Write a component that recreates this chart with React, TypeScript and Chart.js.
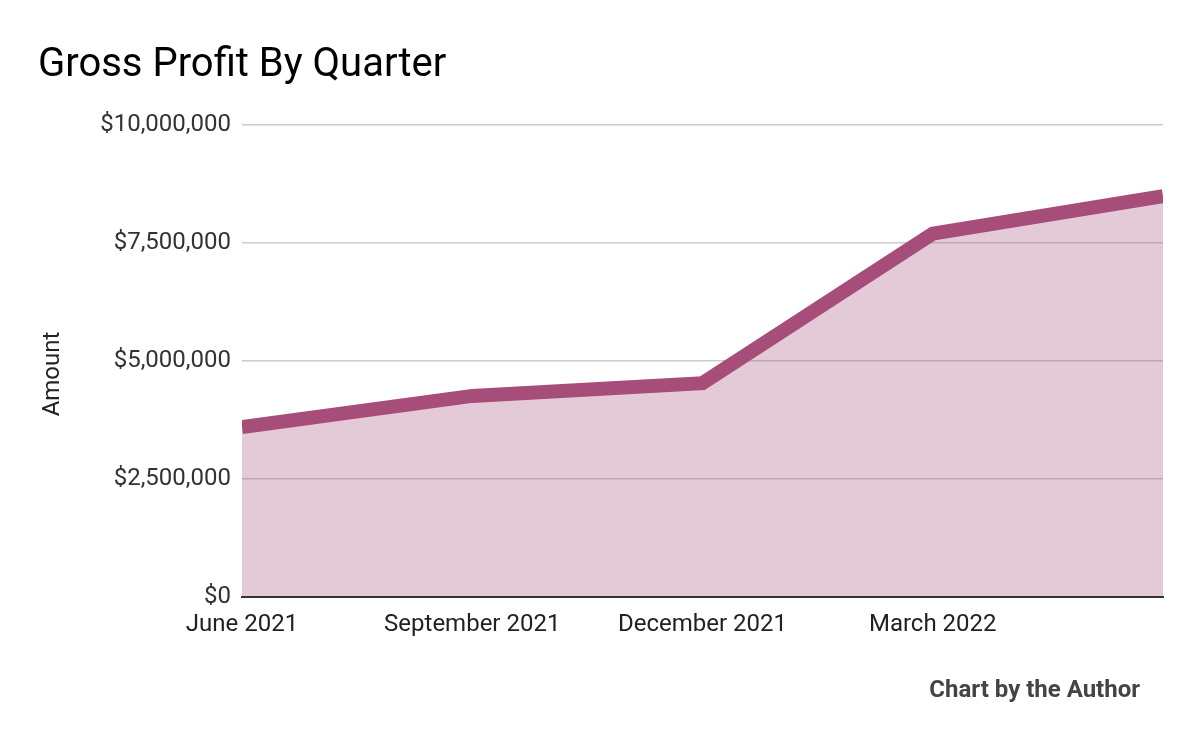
import React, { useEffect, useRef } from "react";
import { Chart, registerables } from "chart.js";

Chart.register(...registerables);

const categories = ["June 2021", "September 2021", "December 2021", "March 2022", "June 2022"];
const grossProfit = [3600000, 4260000, 4530000, 7700000, 8490000];
const yTicks = [0, 2500000, 5000000, 7500000, 10000000];
const chartTitle = "Gross Profit By Quarter";
const yAxisTitle = "Amount";
const footerText = "Chart by the Author";

const LINE = "#a64d79";

const textPlugin = {
  id: "textPlugin",
  afterDraw(chart: any) {
    const ctx = chart.ctx;
    ctx.save();
    ctx.fillStyle = "#000000";
    ctx.font = "40px Roboto";
    ctx.textAlign = "left";
    ctx.textBaseline = "alphabetic";
    ctx.fillText(chartTitle, 38, 76);
    ctx.fillStyle = "#444444";
    ctx.font = "bold 24px Roboto";
    ctx.textAlign = "right";
    ctx.textBaseline = "middle";
    ctx.fillText(footerText, 1140, 691);
    ctx.translate(53, 374);
    ctx.rotate(-Math.PI / 2);
    ctx.fillStyle = "#222222";
    ctx.font = "24px Roboto";
    ctx.textAlign = "center";
    ctx.textBaseline = "middle";
    ctx.fillText(yAxisTitle, 0, 0);
    ctx.restore();
  },
};

export default function App() {
  const ref = useRef<HTMLCanvasElement>(null);
  useEffect(() => {
    if (!ref.current) return;
    const chart = new Chart(ref.current, {
      type: "line",
      data: {
        labels: categories,
        datasets: [
          {
            data: grossProfit,
            borderColor: LINE,
            backgroundColor: "rgba(166,77,121,0.3)",
            borderWidth: 14,
            fill: "origin",
            pointRadius: 0,
            tension: 0,
            clip: 0,
          },
        ],
      },
      options: {
        animation: false,
        responsive: true,
        maintainAspectRatio: false,
        layout: { padding: { left: 0, top: 125, right: 37, bottom: 0 } },
        plugins: {
          legend: { display: false },
          title: { display: false },
          tooltip: { enabled: false },
        },
        scales: {
          x: {
            offset: false,
            grid: { display: false, drawTicks: false },
            border: { display: true, color: "#333333", width: 2, z: 1 },
            ticks: {
              autoSkip: false,
              maxRotation: 0,
              padding: 14,
              color: "#222222",
              font: { family: "Roboto", size: 24 },
              callback: (_v: any, i: number) => (i === categories.length - 1 ? "" : categories[i]),
            },
            afterFit: (s: any) => {
              s.height = 145;
            },
          },
          y: {
            min: 0,
            max: 10000000,
            afterBuildTicks: (s: any) => {
              s.ticks = yTicks.map((v) => ({ value: v }));
            },
            grid: { color: "#cccccc", lineWidth: 1.5, drawTicks: false },
            border: { display: false },
            ticks: {
              padding: 11,
              color: "#333333",
              font: { family: "Roboto", size: 24 },
              callback: (v: any) => "$" + Number(v).toLocaleString("en-US"),
            },
            title: { display: false },
            afterFit: (s: any) => {
              s.width = 242;
            },
          },
        },
      },
      plugins: [textPlugin],
    });
    return () => chart.destroy();
  }, []);
  return (
    <div style={{ position: "absolute", left: 0, top: 0, width: 1200, height: 742, background: "#fff" }}>
      <canvas ref={ref} />
    </div>
  );
}
